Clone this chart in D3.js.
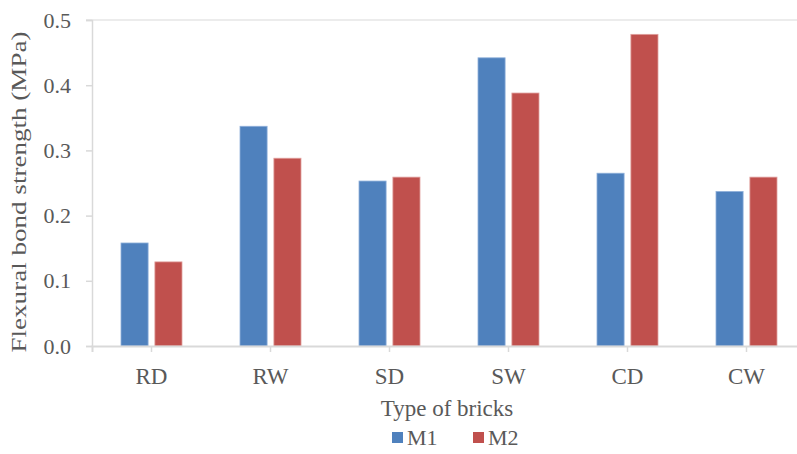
<!DOCTYPE html>
<html><head><meta charset="utf-8">
<script src="https://cdn.jsdelivr.net/npm/d3@7"></script>
<style>body{margin:0;background:#fff;}svg{display:block;} text{font-family:"Liberation Serif","Times New Roman","DejaVu Serif",serif !important;}</style>
</head><body>
<svg id="c" width="797" height="454"></svg>
<script>
const categories = ["RD","RW","SD","SW","CD","CW"];
const seriesNames = ["M1","M2"];
const m1 = [0.158,0.337,0.253,0.442,0.265,0.237];
const m2 = [0.129,0.288,0.259,0.388,0.478,0.259];
const yTicks = [0,0.1,0.2,0.3,0.4,0.5];
const colors = ["#4F81BD","#C0504D"];

const svg = d3.select("#c");
const textCol = "#595959";
const x = d3.scaleBand().domain(categories).range([92,806]).paddingInner(0).paddingOuter(0);
const y = d3.scaleLinear().domain([0,0.5]).range([346,20]);
const xs = d3.scaleBand().domain(seriesNames).range([0, 61]).paddingInner(0.2);

// top gridline
svg.append("line").attr("x1",86).attr("x2",797).attr("y1",y(0.5)).attr("y2",y(0.5))
  .attr("stroke","#D9D9D9").attr("stroke-width",1);

// bars
const data = [m1,m2];
const g = svg.append("g");
categories.forEach((c,i)=>{
  seriesNames.forEach((s,j)=>{
    const v = data[j][i];
    g.append("rect")
      .attr("x", x(c)+x.bandwidth()/2-30.5+xs(s))
      .attr("y", y(v))
      .attr("width", xs.bandwidth())
      .attr("height", y(0)-y(v))
      .attr("fill", colors[j])
      .attr("stroke", j===0 ? "#8FB0DA" : "#E0A09E")
      .attr("stroke-width", 0.8);
  });
});

// y axis
const yAxis = d3.axisLeft(y).tickValues(yTicks).tickFormat(d3.format(".1f")).tickSizeOuter(0).tickSize(6).tickPadding(15);
const ya = svg.append("g").attr("transform","translate(92,0)").call(yAxis);
ya.attr("font-family",null);
ya.select(".domain").attr("stroke","#D9D9D9").attr("stroke-width",1.5);
ya.selectAll(".tick line").attr("stroke","#D9D9D9").attr("stroke-width",1.5);
ya.selectAll(".tick text").attr("font-size",22).attr("fill",textCol);

// x axis
const xAxis = d3.axisBottom(x).tickSizeOuter(0).tickSize(6).tickPadding(0);
const xa = svg.append("g").attr("transform","translate(0,"+y(0)+")").call(xAxis);
xa.attr("font-family",null);
xa.select(".domain").attr("stroke","#D9D9D9").attr("stroke-width",2);
xa.selectAll(".tick line").attr("stroke","#D9D9D9").attr("stroke-width",1.5);
xa.selectAll(".tick text").attr("font-size",23).attr("fill",textCol).attr("dy",null).attr("y",384-346);

// axis titles
svg.append("text").attr("x",447).attr("y",416).attr("text-anchor","middle")
  .attr("font-size",23).attr("fill",textCol).text("Type of bricks");
svg.append("text").attr("transform","translate(26,192) rotate(-90)").attr("text-anchor","middle")
  .attr("font-size",22).attr("textLength",321).attr("lengthAdjust","spacingAndGlyphs")
  .attr("fill",textCol).text("Flexural bond strength (MPa)");

// legend
const leg = svg.append("g");
const legX = [392,473];
seriesNames.forEach((s,j)=>{
  leg.append("rect").attr("x",legX[j]).attr("y",432).attr("width",11).attr("height",11).attr("fill",colors[j]);
  leg.append("text").attr("x",legX[j]+15).attr("y",445).attr("font-size",22)
    .attr("fill",textCol).text(s);
});
</script>
</body></html>
